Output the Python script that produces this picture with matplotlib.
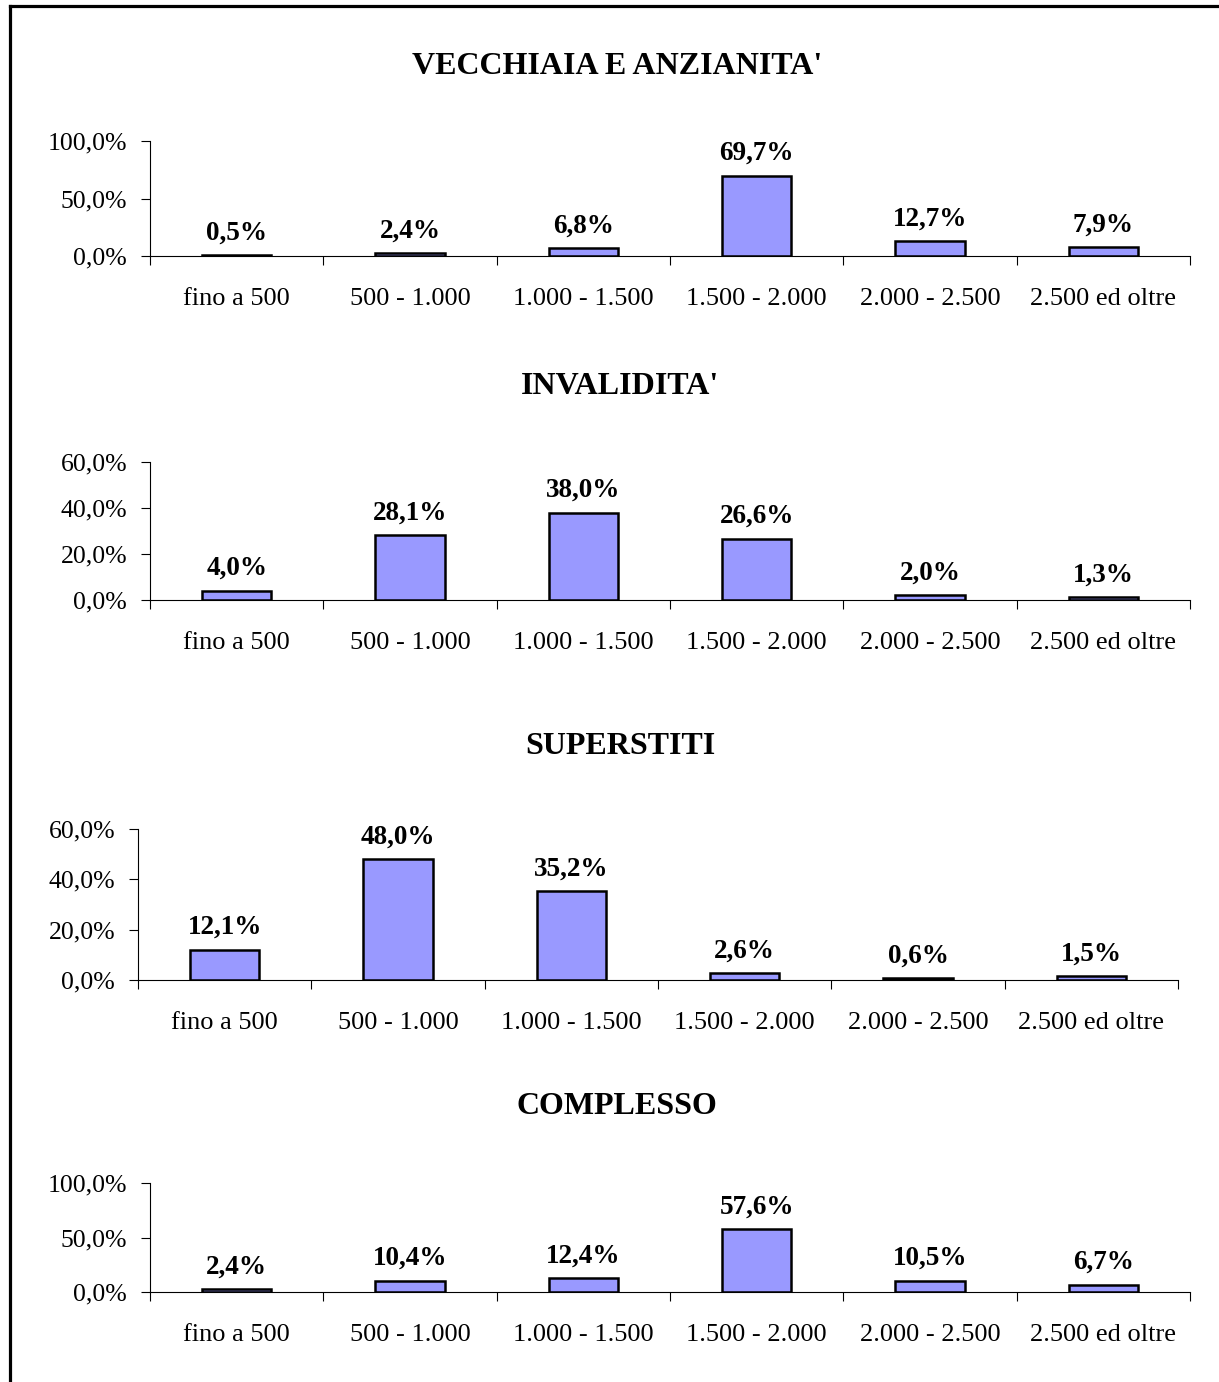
import matplotlib.pyplot as plt
from matplotlib.lines import Line2D
import numpy as np

plt.rcParams['font.family'] = ['Liberation Serif', 'DejaVu Serif']

# Dati
categorie = ['fino a 500', '500 - 1.000', '1.000 - 1.500',
             '1.500 - 2.000', '2.000 - 2.500', '2.500 ed oltre']
titoli = ["VECCHIAIA E ANZIANITA'", "INVALIDITA'", "SUPERSTITI", "COMPLESSO"]
vecchiaia = [0.5, 2.4, 6.8, 69.7, 12.7, 7.9]
invalidita = [4.0, 28.1, 38.0, 26.6, 2.0, 1.3]
superstiti = [12.1, 48.0, 35.2, 2.6, 0.6, 1.5]
complesso = [2.4, 10.4, 12.4, 57.6, 10.5, 6.7]
serie = [vecchiaia, invalidita, superstiti, complesso]
ymax = [100, 60, 60, 100]
ystep = [50, 20, 20, 50]

W, H = 1219, 1382
fig = plt.figure(figsize=(W / 100, H / 100), dpi=100)

# pannelli in pixel: (sinistra, alto, basso, y titolo, x titolo)
pannelli = [
    (150, 141, 256, 67, 617),
    (150, 462, 600, 387, 620),
    (138, 829, 980, 747, 620),
    (150, 1183, 1292, 1107, 617),
]
larghezza = 1040


def fmt(v):
    return f"{v:.1f}%".replace('.', ',')


x = np.arange(len(categorie))
for (sx, top, bot, ty, tx), valori, titolo, ym, st in zip(pannelli, serie, titoli, ymax, ystep):
    ax = fig.add_axes([sx / W, 1 - bot / H, larghezza / W, (bot - top) / H])
    ax.bar(x, valori, width=0.4, color='#9999FF', edgecolor='black', linewidth=1.8)
    for xi, v in zip(x, valori):
        ax.annotate(fmt(v), (xi, v), xytext=(0, 7), textcoords='offset points',
                    ha='center', va='bottom', fontsize=19.5, fontweight='bold')
    ax.set_xlim(-0.5, len(categorie) - 0.5)
    ax.set_ylim(0, ym)
    yt = np.arange(0, ym + 1, st)
    ax.set_yticks(yt)
    ax.set_yticklabels([fmt(v) for v in yt], fontsize=18.5)
    ax.set_xticks(x)
    ax.set_xticklabels(categorie, fontsize=19)
    ax.set_xticks(np.arange(-0.5, len(categorie)), minor=True)
    ax.tick_params(axis='x', which='major', length=0, pad=23)
    ax.tick_params(axis='x', which='minor', length=6.5, width=0.8, direction='out')
    ax.tick_params(axis='y', length=6.5, width=0.8, pad=10)
    for s in ['top', 'right']:
        ax.spines[s].set_visible(False)
    for s in ['left', 'bottom']:
        ax.spines[s].set_linewidth(0.8)
    fig.text(tx / W, 1 - ty / H, titolo, ha='center', va='center',
             fontsize=23, fontweight='bold')

# cornice (solo lati sinistro e superiore visibili)
fig.add_artist(Line2D([9.5 / W, 9.5 / W], [1 - 5.5 / H, -0.01], color='black', linewidth=2.3))
fig.add_artist(Line2D([9.5 / W, 1.01], [1 - 5.5 / H, 1 - 5.5 / H], color='black', linewidth=2.3))

plt.savefig('out.png', dpi=100)
